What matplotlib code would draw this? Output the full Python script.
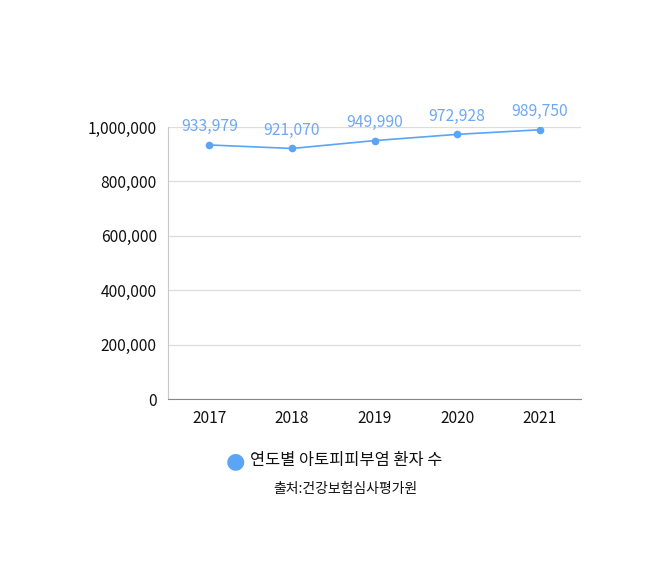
import matplotlib
matplotlib.use('Agg')
import matplotlib.pyplot as plt
from matplotlib.ticker import FuncFormatter

plt.rcParams['font.family'] = ['Noto Sans CJK KR', 'DejaVu Sans']

## data
years = ['2017', '2018', '2019', '2020', '2021']
patients = [933979, 921070, 949990, 972928, 989750]
y_ticks = [0, 200000, 400000, 600000, 800000, 1000000]

line_color = '#5aa5f5'
label_color = '#6fa8f2'

fig = plt.figure(figsize=(6.54, 5.8), dpi=100)
ax = fig.add_axes([168/654, 1-399/580, 413/654, 272/580])

x = list(range(len(years)))
ax.plot(x, patients, color=line_color, lw=1.2, marker='o', ms=4.5, zorder=3)
for xi, v in zip(x, patients):
    ax.annotate(f"{v:,}", (xi, v), xytext=(0, 7), textcoords='offset points',
                ha='center', va='bottom', color=label_color, fontsize=11.3, zorder=4)

ax.set_xlim(-0.5, len(years)-0.5)
ax.set_ylim(0, 1000000)
ax.set_xticks(x)
ax.set_xticklabels(years)
ax.set_yticks(y_ticks)
ax.yaxis.set_major_formatter(FuncFormatter(lambda v, p: f"{int(v):,}"))
ax.tick_params(length=0, labelsize=11.2, colors='#111111')
ax.tick_params(axis='x', pad=8)
ax.tick_params(axis='y', pad=8)
ax.grid(axis='y', color='#dcdcdc', lw=0.9)
ax.set_axisbelow(True)
for s in ['top', 'right']:
    ax.spines[s].set_visible(False)
ax.spines['left'].set_color('#c8c8c8')
ax.spines['bottom'].set_color('#888888')

# legend and source
fig.text(235/654, 1-461/580, '●', color=line_color, fontsize=16, ha='center', va='center',
         family=['DejaVu Sans'])
fig.text(250/654, 1-461/580, '연도별 아토피피부염 환자 수', fontsize=11.8, ha='left', va='center', color='#111111')
fig.text(345/654, 1-489/580, '출처:건강보험심사평가원', fontsize=10, ha='center', va='center', color='#111111')

fig.savefig('out.png', dpi=100)
